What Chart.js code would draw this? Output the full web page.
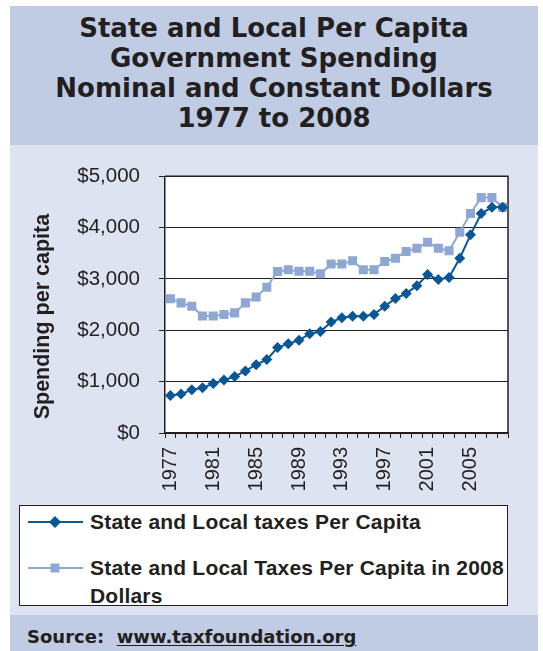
<!DOCTYPE html>
<html>
<head>
<meta charset="utf-8">
<script src="https://cdn.jsdelivr.net/npm/chart.js"></script>
<style>
  body { margin: 0; background: #fff; width: 543px; height: 651px; position: relative; overflow: hidden; }
  .band { position: absolute; left: 10px; width: 528px; }
  #top { top: 6px; height: 139px; background: #c0cce4; }
  #mid { top: 145px; height: 470px; background: #dde3f0; }
  #bottom { top: 615px; height: 36px; background: #c0cce4; }
  #title {
    position: absolute; left: 0; top: 7px; width: 528px; text-align: center;
    font: bold 26px "DejaVu Sans", Verdana, sans-serif; line-height: 30px; color: #231f20;
  }
  #myChart { position: absolute; left: 10px; top: 145px; }
  #legend {
    position: absolute; left: 19px; top: 505px; width: 487px; height: 99px;
    background: #fff; border: 1.5px solid #231f20;
  }
  .item { position: absolute; left: 0; }
  .item svg { position: absolute; left: 8px; }
  .item span {
    position: absolute; left: 70px; width: 420px;
    font: bold 21px "Liberation Sans", Arial, sans-serif; line-height: 28px; color: #231f20;
    letter-spacing: 0.2px;
  }
  #source {
    position: absolute; left: 27px; top: 626px;
    font: bold 18px "DejaVu Sans", Verdana, sans-serif; color: #231f20;
  }
  #source u { text-underline-offset: 2px; }
</style>
</head>
<body>
<div class="band" id="top"><div id="title">State and Local Per Capita<br>Government Spending<br>Nominal and Constant Dollars<br>1977 to 2008</div></div>
<div class="band" id="mid"></div>
<div class="band" id="bottom"></div>
<canvas id="myChart" width="528" height="355"></canvas>
<div id="legend"></div>
<div id="source">Source:&nbsp; <u>www.taxfoundation.org</u></div>

<script>
'use strict';

//--------------------DATA
let years = ['1977', '1978', '1979', '1980', '1981', '1982', '1983', '1984',
  '1985', '1986', '1987', '1988', '1989', '1990', '1991', '1992',
  '1993', '1994', '1995', '1996', '1997', '1998', '1999', '2000',
  '2001', '2002', '2003', '2004', '2005', '2006', '2007', '2008'];

let shownYears = ['1977', '1981', '1985', '1989', '1993', '1997', '2001', '2005'];

let nominalLabel = 'State and Local taxes Per Capita';
let nominalValues = [730, 760, 840, 880, 965, 1030, 1100, 1210,
  1330, 1430, 1665, 1740, 1805, 1935, 1975, 2160,
  2245, 2275, 2275, 2310, 2470, 2620, 2715, 2870,
  3085, 2990, 3030, 3405, 3860, 4275, 4395, 4395];

let constantLabel = 'State and Local Taxes Per Capita in 2008 Dollars';
let constantValues = [2615, 2535, 2470, 2280, 2280, 2310, 2340, 2535,
  2650, 2840, 3145, 3180, 3150, 3150, 3100, 3290,
  3290, 3355, 3180, 3180, 3340, 3405, 3535, 3600,
  3715, 3600, 3550, 3910, 4275, 4585, 4585, 4395];

let yTicks = [0, 1000, 2000, 3000, 4000, 5000];

//--------------------COLOURS
let darkBlue = '#0a5796';
let lightBlue = '#8ea7d3';
let ink = '#231f20';

//--------------------PLUGINS
let plotFrame = {
  id: 'plotFrame',
  beforeDraw(chart) {
    let a = chart.chartArea;
    chart.ctx.save();
    chart.ctx.fillStyle = '#fff';
    chart.ctx.fillRect(a.left, a.top, a.right - a.left, a.bottom - a.top);
    chart.ctx.restore();
  },
  beforeDatasetsDraw(chart) {
    let a = chart.chartArea;
    let ctx = chart.ctx;
    ctx.save();
    ctx.strokeStyle = ink;
    ctx.lineWidth = 1.5;
    ctx.beginPath();
    ctx.moveTo(a.left, a.top);
    ctx.lineTo(a.right, a.top);
    ctx.lineTo(a.right, a.bottom);
    ctx.stroke();
    ctx.restore();
  }
};

//--------------------CHART
let canvasElem = document.getElementById('myChart');

let myChart = new Chart(canvasElem, {
  type: 'line',
  data: {
    labels: years,
    datasets: [
      {
        label: nominalLabel,
        data: nominalValues,
        borderColor: darkBlue,
        backgroundColor: darkBlue,
        borderWidth: 2,
        pointStyle: 'rectRot',
        pointRadius: 5.5,
        pointBorderWidth: 0,
        tension: 0,
        order: 1,
      },
      {
        label: constantLabel,
        data: constantValues,
        borderColor: lightBlue,
        backgroundColor: lightBlue,
        borderWidth: 2,
        pointStyle: 'rect',
        pointRadius: 6.4,
        pointBorderWidth: 0,
        tension: 0,
        order: 2,
      },
    ],
  },
  options: {
    responsive: false,
    devicePixelRatio: 1,
    animation: false,
    layout: { padding: { left: 0, top: 28, right: 30, bottom: 0 } },
    plugins: {
      legend: { display: false },
      tooltip: { enabled: false },
    },
    scales: {
      x: {
        offset: true,
        afterFit(scale) { scale.height = 67; },
        grid: {
          offset: true,
          drawOnChartArea: false,
          tickLength: 5,
          tickColor: ink,
          lineWidth: 1,
        },
        border: { color: ink, width: 1.5 },
        ticks: {
          autoSkip: false,
          maxRotation: 90,
          minRotation: 90,
          padding: 9,
          color: ink,
          font: { family: '"Liberation Sans", Arial, sans-serif', size: 20 },
          callback(value, index) {
            let year = this.getLabelForValue(value);
            return shownYears.includes(year) ? year : '';
          },
        },
      },
      y: {
        min: 0,
        max: 5000,
        afterFit(scale) { scale.width = 155; },
        afterBuildTicks(scale) { scale.ticks = yTicks.map(v => ({ value: v })); },
        grid: {
          color: ink,
          lineWidth: 1,
          tickLength: 6,
          tickColor: ink,
        },
        border: { color: ink, width: 1.5 },
        ticks: {
          padding: 19,
          color: ink,
          font: { family: '"Liberation Sans", Arial, sans-serif', size: 20.5 },
          callback(value) { return '$' + value.toLocaleString('en-US'); },
        },
        title: {
          display: true,
          // trailing spaces nudge the label down a bit, like the original
          text: 'Spending per capita\u00a0\u00a0\u00a0\u00a0',
          color: ink,
          padding: { top: 20, bottom: 0 },
          font: { family: '"Liberation Sans", Arial, sans-serif', size: 21.5, weight: 'bold' },
        },
      },
    },
  },
  plugins: [plotFrame],
});

//--------------------LEGEND (built from the datasets)
let legendElem = document.getElementById('legend');
let legendRows = [1.5, 47.5];

myChart.data.datasets.forEach(function (ds, i) {
  let item = document.createElement('div');
  item.className = 'item';
  item.style.top = legendRows[i] + 'px';
  let marker = ds.pointStyle === 'rectRot'
    ? '<polygon points="27,8 33,14 27,20 21,14" fill="' + ds.backgroundColor + '"/>'
    : '<rect x="22.5" y="9.5" width="9" height="9" fill="' + ds.backgroundColor + '"/>';
  item.innerHTML =
    '<svg width="58" height="28"><line x1="0" y1="14" x2="55" y2="14" stroke="' +
    ds.borderColor + '" stroke-width="2"/>' + marker + '</svg>' +
    '<span>' + ds.label.replace(' 2008 Dollars', ' 2008<br>Dollars') + '</span>';
  legendElem.appendChild(item);
});
</script>
</body>
</html>
